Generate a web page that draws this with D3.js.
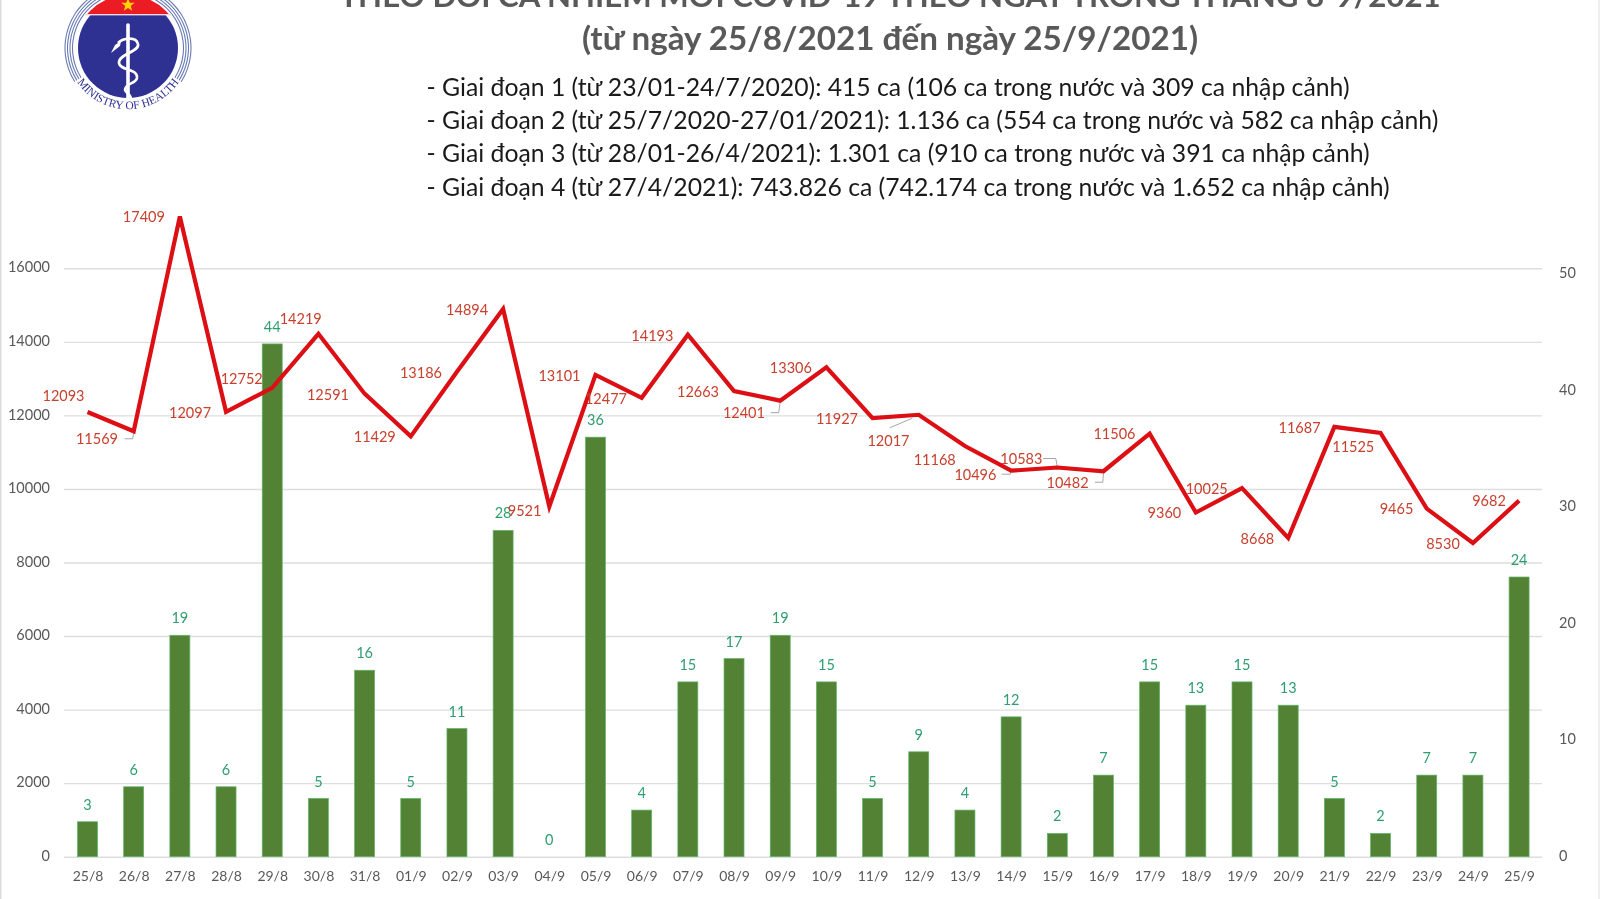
<!DOCTYPE html>
<html><head><meta charset="utf-8">
<script src="https://cdn.jsdelivr.net/npm/d3@7/dist/d3.min.js"></script>
<style>html,body{margin:0;padding:0;background:#fff}svg{display:block;filter:blur(.35px)}text{font-family:Lato,"Noto Sans",sans-serif}</style>
</head><body><div id="chart"></div>
<script>
const dates=["25/8","26/8","27/8","28/8","29/8","30/8","31/8","01/9","02/9","03/9","04/9","05/9","06/9","07/9","08/9","09/9","10/9","11/9","12/9","13/9","14/9","15/9","16/9","17/9","18/9","19/9","20/9","21/9","22/9","23/9","24/9","25/9"];
const domesticCases=[12093,11569,17409,12097,12752,14219,12591,11429,13186,14894,9521,13101,12477,14193,12663,12401,13306,11927,12017,11168,10496,10583,10482,11506,9360,10025,8668,11687,11525,9465,8530,9682];
const importedCases=[3,6,19,6,44,5,16,5,11,28,0,36,4,15,17,19,15,5,9,4,12,2,7,15,13,15,13,5,2,7,7,24];
const leftTicks=[0,2000,4000,6000,8000,10000,12000,14000,16000];
const rightTicks=[0,10,20,30,40,50];
const titleLines=["THEO DÕI CA NHIỄM MỚI COVID-19 THEO NGÀY TRONG THÁNG 8-9/2021","(từ ngày 25/8/2021 đến ngày 25/9/2021)"];
const noteLines=["- Giai đoạn 1 (từ 23/01-24/7/2020): 415 ca (106 ca trong nước và 309 ca nhập cảnh)","- Giai đoạn 2 (từ 25/7/2020-27/01/2021): 1.136 ca (554 ca trong nước và 582 ca nhập cảnh)","- Giai đoạn 3 (từ 28/01-26/4/2021): 1.301 ca (910 ca trong nước và 391 ca nhập cảnh)","- Giai đoạn 4 (từ 27/4/2021): 743.826 ca (742.174 ca trong nước và 1.652 ca nhập cảnh)"];

// label placement relative to each point of the line
const labelDx=[-24,-36.7,-36,-36,-30.5,-17.7,-36.6,-36,-36,-36,-24.7,-36,-35.7,-35.5,-36,-36.3,-35.5,-35.6,-30.3,-30.2,-35.7,-35.9,-35.9,-35.2,-31.4,-35.3,-30.8,-34.8,-27.3,-30.2,-29.9,-30.1];
const labelDy=[-16.3,7.7,0,1,-8.5,-14.6,1,.5,1,1,4,1,.8,1,.6,12.6,1,1,25.9,14.3,4.2,-8.9,12,.7,.8,.6,1,.7,14.4,.3,.7,.6];
const leaders={1:[[-9,7.5],[-1,7.5],[0,2]],15:[[-9.5,12],[-1.5,12],[0,1]],18:[[-29,13],[-6.5,3.5]],20:[[-9.5,3.5],[-.8,3.5],[0,.3]],21:[[-14,-9],[-1.5,-9],[0,-.5]],22:[[-8.5,11],[-.7,11],[0,1.8]]};

const W=1600,H=899,yBase=856.7,yTop=268.3,xL=87.5,xR=1519.1;
const svg=d3.select("#chart").append("svg").attr("width",W).attr("height",H).attr("viewBox",[0,0,W,H]);
const x=d3.scalePoint().domain(dates).range([xL,xR]);
const yL=d3.scaleLinear().domain([0,16000]).range([yBase,yTop]);
const yR=d3.scaleLinear().domain([0,50]).range([yBase,274]);

svg.append("rect").attr("x",0).attr("y",0).attr("width",1.5).attr("height",H).attr("fill","#dcdcdc");
svg.append("rect").attr("x",W-2).attr("y",0).attr("width",2).attr("height",H).attr("fill","#f0f0f0");

// grid
const grid=svg.append("g").attr("transform","translate(64,0)").call(d3.axisRight(yL).tickValues(leftTicks).tickSize(1478).tickFormat(""));
grid.select(".domain").remove();
grid.selectAll("line").attr("stroke","#dedede").attr("stroke-width",1.4);

// axes
const la=svg.append("g").attr("transform","translate(50,0)").call(d3.axisLeft(yL).tickValues(leftTicks).tickSize(0).tickPadding(0).tickFormat(d3.format("d")));
la.select(".domain").remove();
la.selectAll("text").attr("fill","#595959").attr("font-size",14.5).attr("dy","0.25em").style("font-family","Lato");
const ra=svg.append("g").attr("transform","translate(1559,0)").call(d3.axisRight(yR).tickValues(rightTicks).tickSize(0).tickPadding(0).tickFormat(d3.format("d")));
ra.select(".domain").remove();
ra.selectAll("text").attr("fill","#595959").attr("font-size",14.5).attr("dy","0.25em").style("font-family","Lato");
const xa=svg.append("g").attr("transform","translate(0,871)").call(d3.axisBottom(x).tickSize(0).tickPadding(0));
xa.select(".domain").remove();
xa.selectAll("text").attr("fill","#595959").attr("font-size",14).attr("dy","0.72em").style("font-family","Lato");

// bars
const bw=20;
svg.append("g").selectAll("rect").data(importedCases).join("rect")
 .attr("x",(d,i)=>x(dates[i])-bw/2).attr("width",bw)
 .attr("y",d=>yR(d)).attr("height",d=>yBase-yR(d))
 .attr("fill","#548235").attr("stroke","#5fb56a").attr("stroke-width",d=>d?0.7:0);
svg.append("g").selectAll("text").data(importedCases).join("text")
 .attr("x",(d,i)=>x(dates[i])).attr("y",d=>yR(d)-17).attr("dy","0.35em")
 .attr("text-anchor","middle").attr("fill","#2f9e6e").attr("font-size",14.5).text(d=>d);

// leader lines
const lineGen=d3.line();
svg.append("g").selectAll("path").data(Object.keys(leaders)).join("path")
 .attr("d",k=>lineGen(leaders[k].map(p=>[x(dates[k])+p[0],yL(domesticCases[k])+p[1]])))
 .attr("fill","none").attr("stroke","#a6a6a6").attr("stroke-width",1);

// line
svg.append("path").datum(domesticCases)
 .attr("d",d3.line().x((d,i)=>x(dates[i])).y(d=>yL(d)))
 .attr("fill","none").attr("stroke","#dc0f14").attr("stroke-width",4.2).attr("stroke-linejoin","miter");
svg.append("g").selectAll("text").data(domesticCases).join("text")
 .attr("x",(d,i)=>x(dates[i])+labelDx[i]).attr("y",(d,i)=>yL(d)+labelDy[i]).attr("dy","0.35em")
 .attr("text-anchor","middle").attr("fill","#c8402e").attr("font-size",14.5).text(d=>d);

// titles
svg.append("g").selectAll("text").data(titleLines).join("text")
 .attr("x",890).attr("y",(d,i)=>i?50:7).attr("text-anchor","middle")
 .attr("fill","#595959").attr("font-weight",700).attr("font-size",(d,i)=>i?33.2:31.2).text(d=>d);
svg.append("g").selectAll("text").data(noteLines).join("text")
 .attr("x",426.5).attr("y",(d,i)=>96+i*33.2)
 .attr("fill","#1a1a1a").attr("font-size",24.75).text(d=>d);

// logo
const logo=svg.append("g").attr("transform","translate(128,48)");
const rOuter=[63,60.5,58,55.5];
logo.selectAll("path.r").data(rOuter.flatMap(r=>[{r,s:-Math.PI*0.68,e:-Math.PI*0.1},{r,s:Math.PI*0.1,e:Math.PI*0.68}])).join("path")
 .attr("d",d=>d3.arc()({innerRadius:d.r-.55,outerRadius:d.r+.55,startAngle:d.s,endAngle:d.e})).attr("fill","#6a7cb5");
logo.append("circle").attr("r",50).attr("fill","#2e3192");
logo.append("clipPath").attr("id","cap").append("rect").attr("x",-60).attr("y",-60).attr("width",120).attr("height",26);
logo.append("circle").attr("r",53).attr("fill","#ec1c24").attr("clip-path","url(#cap)");
logo.append("rect").attr("x",-44).attr("y",-34).attr("width",88).attr("height",1.4).attr("fill","#f3d7e0");
const star=d3.range(10).map(i=>{const a=-Math.PI/2+i*Math.PI/5,r=i%2?2.9:7;return [r*Math.cos(a),-43+r*Math.sin(a)];});
logo.append("path").attr("d",d3.line()(star)+"Z").attr("fill","#ffd400");
logo.append("line").attr("x1",0).attr("x2",0).attr("y1",-23).attr("y2",50).attr("stroke","#fff").attr("stroke-width",3.6).attr("stroke-linecap","round");
logo.append("path").attr("d","M-10,-5 C-5,-10 8,-12 10,-4 C12,4 -10,6 -9,15 C-8,23 10,20 9,30 C8,36 -3,35 -3,42 C-2,45 2,46 3,50")
 .attr("fill","none").attr("stroke","#fff").attr("stroke-width",2.6);
logo.append("path").attr("d","M-17,5 L-13,-3 L-7,-7 L-8,-2 Z").attr("fill","#fff");
logo.append("path").attr("id","logoArc").attr("d","M-55,27 A61.3,61.3 0 0 0 55,27").attr("fill","none");
logo.append("text").style("font-family","Liberation Serif").attr("font-size",11.5).attr("fill","#2e3192").attr("text-anchor","middle")
 .append("textPath").attr("href","#logoArc").attr("startOffset","50%").text("MINISTRY OF HEALTH");
</script></body></html>
